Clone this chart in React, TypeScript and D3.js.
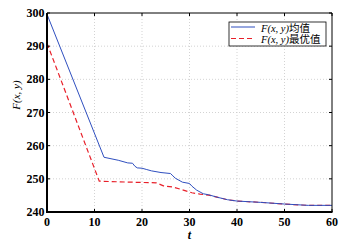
import React from "react";
import * as d3 from "d3";

const tMean = [0, 12, 15, 17, 18, 18.5, 19, 20, 21, 22, 24, 26, 26.5, 27, 28.5, 30, 30.5, 31.5, 32.9, 34, 36, 38, 40, 45, 50, 55, 60];
const vMean = [299.6, 256.5, 255.6, 254.8, 254.7, 253.8, 253.3, 253.2, 252.8, 252.4, 251.9, 251.6, 250.9, 250.2, 249.0, 248.6, 247.8, 246.6, 245.5, 245.2, 244.4, 243.7, 243.3, 242.9, 242.4, 242.0, 242.0];
const tBest = [0, 11, 15, 20, 23, 24.5, 26.6, 28.7, 30.5, 32.2, 34, 36, 38, 40, 45, 50, 55, 60];
const vBest = [290.9, 249.3, 249.1, 248.9, 248.8, 247.9, 247.5, 246.6, 245.8, 245.4, 245.1, 244.4, 243.7, 243.3, 242.9, 242.4, 242.0, 242.0];
const xTicks = [0, 10, 20, 30, 40, 50, 60];
const yTicks = [240, 250, 260, 270, 280, 290, 300];
const legendLabels = ["均值", "最优值"];

export default function App() {
  const W = 344, H = 244;
  const L = 47, R = 332, T = 13, B = 212;
  const x = d3.scaleLinear().domain([0, 60]).range([L, R]);
  const y = d3.scaleLinear().domain([240, 300]).range([B, T]);
  const line = d3.line<[number, number]>().x(d => x(d[0])).y(d => y(d[1]));
  const meanPts = tMean.map((t, i) => [t, vMean[i]] as [number, number]);
  const bestPts = tBest.map((t, i) => [t, vBest[i]] as [number, number]);
  const serif = "'Liberation Serif', 'DejaVu Serif', serif";
  const cjk = "'Liberation Serif', 'Noto Sans CJK SC', serif";
  const blue = "#2f4fbf";
  const red = "#e8202a";
  return (
    <svg width={W} height={H} style={{ position: "absolute", left: 0, top: 0, background: "#fff" }}>
      <rect width={W} height={H} fill="#fff" />
      {xTicks.slice(1, -1).map(t => (
        <line key={"gx" + t} x1={x(t)} x2={x(t)} y1={T} y2={B} stroke="#c8c8c8" strokeWidth={0.8} strokeDasharray="1,2" />
      ))}
      {yTicks.slice(1, -1).map(v => (
        <line key={"gy" + v} x1={L} x2={R} y1={y(v)} y2={y(v)} stroke="#c8c8c8" strokeWidth={0.8} strokeDasharray="1,2" />
      ))}
      <path d={line(bestPts) || ""} fill="none" stroke={red} strokeWidth={1.2} strokeDasharray="5,3" />
      <path d={line(meanPts) || ""} fill="none" stroke={blue} strokeWidth={1} />
      {/* frame */}
      <line x1={L} x2={R} y1={T} y2={T} stroke="#000" strokeWidth={1} />
      <line x1={R} x2={R} y1={T} y2={B} stroke="#000" strokeWidth={1} />
      <line x1={L} x2={L} y1={T} y2={B + 1} stroke="#000" strokeWidth={2} />
      <line x1={L - 1} x2={R + 0.5} y1={B} y2={B} stroke="#000" strokeWidth={2} />
      {xTicks.map(t => (
        <g key={"tx" + t}>
          <line x1={x(t)} x2={x(t)} y1={B} y2={B - 3} stroke="#000" strokeWidth={1} />
          <line x1={x(t)} x2={x(t)} y1={T} y2={T + 3} stroke="#000" strokeWidth={1} />
          <text x={x(t)} y={226} textAnchor="middle" fontFamily={serif} fontWeight="bold" fontSize={12}>{t}</text>
        </g>
      ))}
      {yTicks.map(v => (
        <g key={"ty" + v}>
          <line x1={L} x2={L + 3} y1={y(v)} y2={y(v)} stroke="#000" strokeWidth={1} />
          <line x1={R} x2={R - 3} y1={y(v)} y2={y(v)} stroke="#000" strokeWidth={1} />
          <text x={44.5} y={y(v) + 4} textAnchor="end" fontFamily={serif} fontWeight="bold" fontSize={12}>{v}</text>
        </g>
      ))}
      <text x={x(30)} y={239} textAnchor="middle" fontFamily={serif} fontStyle="italic" fontWeight="bold" fontSize={12}>t</text>
      <text transform={`translate(20,95) rotate(-90)`} textAnchor="middle" fontFamily={serif} fontStyle="italic" fontSize={11}>F(x, y)</text>
      {/* legend */}
      <rect x={229} y={22} width={97} height={24} fill="#fff" stroke="#000" strokeWidth={0.8} />
      <line x1={231} x2={255} y1={27} y2={27} stroke={blue} strokeWidth={1} />
      <line x1={231} x2={255} y1={38.5} y2={38.5} stroke={red} strokeWidth={1.2} strokeDasharray="5,3" />
      {legendLabels.map((lab, i) => (
        <text key={lab} x={261} y={31.5 + i * 11.5} fontSize={10.5} fontFamily={cjk}>
          <tspan fontStyle="italic">F(x, y)</tspan>
          <tspan>{lab}</tspan>
        </text>
      ))}
    </svg>
  );
}
